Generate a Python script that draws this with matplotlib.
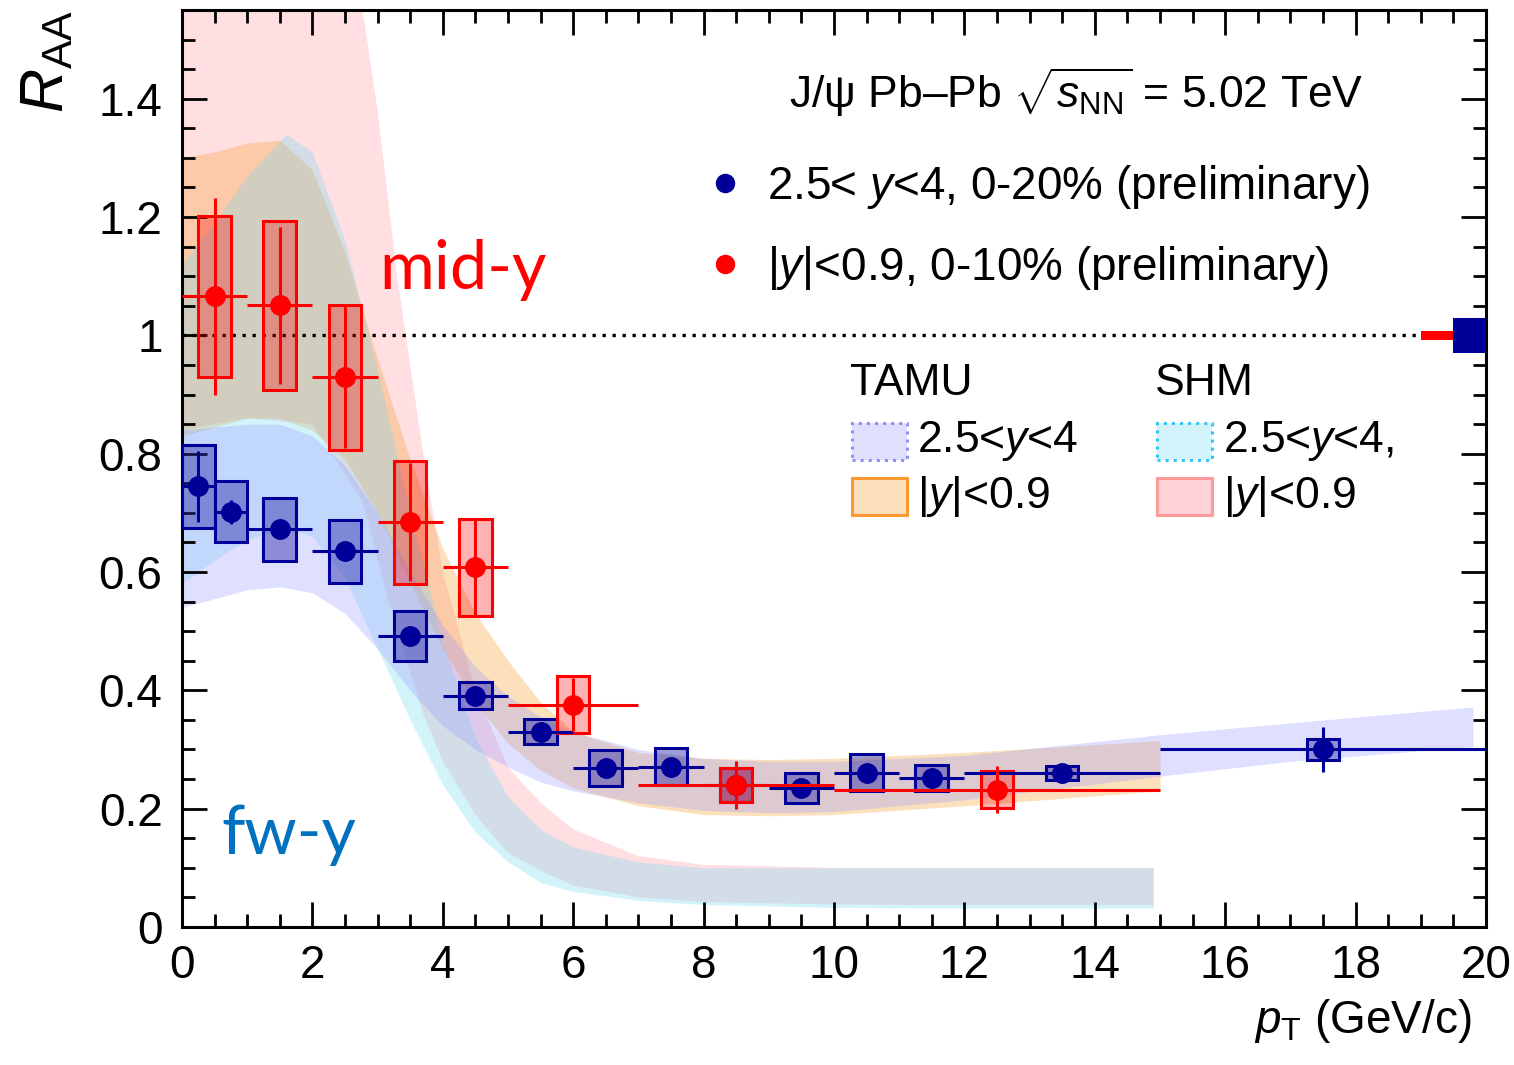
import matplotlib
matplotlib.use('Agg')
import matplotlib.pyplot as plt
from matplotlib.patches import Rectangle
from matplotlib.lines import Line2D
from matplotlib.ticker import MultipleLocator

plt.rcParams['font.family'] = ['Liberation Sans', 'DejaVu Sans']
plt.rcParams['mathtext.fontset'] = 'custom'
plt.rcParams['mathtext.rm'] = 'Liberation Sans'
plt.rcParams['mathtext.it'] = 'Liberation Sans:italic'
plt.rcParams['mathtext.bf'] = 'Liberation Sans:bold'

# ALICE forward rapidity 2.5<y<4, 0-20%
pt_fw = [0.25, 0.75, 1.5, 2.5, 3.5, 4.5, 5.5, 6.5, 7.5, 8.5, 9.5, 10.5, 11.5, 13.5, 17.5]
bin_lo_fw = [0, 0.5, 1, 2, 3, 4, 5, 6, 7, 8, 9, 10, 11, 12, 15]
bin_hi_fw = [0.5, 1, 2, 3, 4, 5, 6, 7, 8, 9, 10, 11, 12, 15, 20]
raa_fw = [0.745, 0.702, 0.672, 0.635, 0.492, 0.391, 0.330, 0.269, 0.271, 0.240, 0.235, 0.261, 0.252, 0.260, 0.300]
stat_fw = [0.06, 0.02, 0.015, 0.015, 0.012, 0.01, 0.008, 0.01, 0.01, 0.01, 0.01, 0.01, 0.01, 0.008, 0.038]
syst_fw = [0.07, 0.052, 0.053, 0.053, 0.042, 0.023, 0.021, 0.03, 0.031, 0.028, 0.026, 0.031, 0.022, 0.012, 0.017]

# ALICE mid rapidity |y|<0.9, 0-10%
pt_mid = [0.5, 1.5, 2.5, 3.5, 4.5, 6.0, 8.5, 12.5]
bin_lo_mid = [0, 1, 2, 3, 4, 5, 7, 10]
bin_hi_mid = [1, 2, 3, 4, 5, 7, 10, 15]
raa_mid = [1.066, 1.051, 0.929, 0.684, 0.608, 0.376, 0.240, 0.232]
stat_mid = [0.167, 0.133, 0.12, 0.10, 0.08, 0.045, 0.04, 0.04]
syst_mid = [0.136, 0.143, 0.122, 0.104, 0.082, 0.048, 0.028, 0.031]

# global uncertainties at unity
glob_fw = 0.03
glob_mid = 0.008

# SHM |y|<0.9
shm_mid_x = [0, 1, 2, 2.77, 3, 3.3, 3.7, 4, 4.5, 5, 5.5, 6, 7, 8, 10, 12, 14.9]
shm_mid_hi = [2.5, 2.2, 1.85, 1.55, 1.38, 1.10, 0.80, 0.60, 0.40, 0.27, 0.21, 0.165, 0.12, 0.105, 0.10, 0.10, 0.10]
shm_mid_lo = [0.84, 0.86, 0.85, 0.72, 0.62, 0.50, 0.36, 0.28, 0.19, 0.125, 0.095, 0.07, 0.05, 0.042, 0.038, 0.037, 0.037]

# TAMU |y|<0.9
tamu_mid_x = [0, 0.5, 1, 1.5, 2, 2.5, 3, 3.5, 4, 4.5, 5, 5.5, 6, 7, 8, 9, 10, 12, 15]
tamu_mid_hi = [1.30, 1.31, 1.325, 1.33, 1.28, 1.14, 0.96, 0.79, 0.64, 0.53, 0.45, 0.38, 0.33, 0.295, 0.285, 0.283, 0.285, 0.295, 0.315]
tamu_mid_lo = [0.83, 0.845, 0.86, 0.86, 0.84, 0.79, 0.70, 0.58, 0.47, 0.38, 0.31, 0.265, 0.235, 0.205, 0.19, 0.188, 0.19, 0.205, 0.23]

# SHM 2.5<y<4
shm_fw_x = [0, 0.5, 1, 1.6, 2, 2.5, 3, 3.5, 4, 4.5, 5, 5.5, 6, 7, 8, 10, 12, 14.9]
shm_fw_hi = [1.12, 1.19, 1.27, 1.34, 1.31, 1.16, 0.94, 0.70, 0.48, 0.32, 0.22, 0.165, 0.135, 0.11, 0.10, 0.10, 0.10, 0.10]
shm_fw_lo = [0.58, 0.62, 0.655, 0.675, 0.66, 0.59, 0.47, 0.35, 0.24, 0.16, 0.11, 0.075, 0.06, 0.045, 0.038, 0.033, 0.032, 0.032]

# TAMU 2.5<y<4
tamu_fw_x = [0, 0.5, 1, 1.5, 2, 2.5, 3, 3.5, 4, 4.5, 5, 5.5, 6, 7, 8, 9, 10, 12, 15, 17, 19.8]
tamu_fw_hi = [0.84, 0.845, 0.85, 0.85, 0.83, 0.78, 0.70, 0.60, 0.51, 0.44, 0.39, 0.355, 0.33, 0.30, 0.285, 0.28, 0.28, 0.29, 0.325, 0.345, 0.372]
tamu_fw_lo = [0.54, 0.555, 0.57, 0.575, 0.565, 0.53, 0.47, 0.40, 0.34, 0.30, 0.27, 0.245, 0.23, 0.21, 0.197, 0.193, 0.195, 0.215, 0.255, 0.28, 0.305]

navy = '#000099'
red = '#ff0000'
c_shm_mid = '#ff6f7d'
c_tamu_mid = '#f89a22'
c_shm_fw = '#70daf5'
c_tamu_fw = '#9898ff'

fig = plt.figure(figsize=(15.14, 10.65), dpi=100)
ax = fig.add_axes([0.1202, 0.1296, 0.8613, 0.861])

# model bands
ax.fill_between(shm_mid_x, shm_mid_lo, shm_mid_hi, color=c_shm_mid, alpha=0.22, lw=0, zorder=1)
ax.fill_between(tamu_mid_x, tamu_mid_lo, tamu_mid_hi, color=c_tamu_mid, alpha=0.3, lw=0, zorder=1)
ax.fill_between(shm_fw_x, shm_fw_lo, shm_fw_hi, color=c_shm_fw, alpha=0.3, lw=0, zorder=1)
ax.fill_between(tamu_fw_x, tamu_fw_lo, tamu_fw_hi, color=c_tamu_fw, alpha=0.3, lw=0, zorder=1)

ax.axhline(1, color='k', ls=(0, (1, 2)), lw=2.4, zorder=4)

# systematic boxes
for x, y, s in zip(pt_fw, raa_fw, syst_fw):
    ax.add_patch(Rectangle((x - 0.25, y - s), 0.5, 2 * s, facecolor='#2a2aa8', alpha=0.45, lw=0, zorder=5))
    ax.add_patch(Rectangle((x - 0.25, y - s), 0.5, 2 * s, facecolor='none', edgecolor=navy, lw=2.2, zorder=6))
for x, y, s in zip(pt_mid, raa_mid, syst_mid):
    ax.add_patch(Rectangle((x - 0.25, y - s), 0.5, 2 * s, facecolor=red, alpha=0.3, lw=0, zorder=5))
    ax.add_patch(Rectangle((x - 0.25, y - s), 0.5, 2 * s, facecolor='none', edgecolor=red, lw=2.2, zorder=6))

xerr_fw = [[p - l for p, l in zip(pt_fw, bin_lo_fw)], [h - p for p, h in zip(pt_fw, bin_hi_fw)]]
xerr_mid = [[p - l for p, l in zip(pt_mid, bin_lo_mid)], [h - p for p, h in zip(pt_mid, bin_hi_mid)]]
ax.errorbar(pt_fw, raa_fw, xerr=xerr_fw, yerr=stat_fw, fmt='o', color=navy, ms=14,
            elinewidth=2.2, capsize=0, zorder=7)
ax.errorbar(pt_mid, raa_mid, xerr=xerr_mid, yerr=stat_mid, fmt='o', color=red, ms=14,
            elinewidth=2.2, capsize=0, zorder=8)

# global uncertainty boxes
ax.add_patch(Rectangle((19.5, 1 - glob_fw), 0.5, 2 * glob_fw, facecolor=navy, lw=0, zorder=5))
ax.add_patch(Rectangle((19.0, 1 - glob_mid), 0.5, 2 * glob_mid, facecolor=red, lw=0, zorder=5))

ax.set_xlim(0, 20)
ax.set_ylim(0, 1.55)
ax.xaxis.set_major_locator(MultipleLocator(2))
ax.xaxis.set_minor_locator(MultipleLocator(0.5))
ax.yaxis.set_major_locator(MultipleLocator(0.2))
ax.yaxis.set_minor_locator(MultipleLocator(0.05))
ax.set_yticks([0, 0.2, 0.4, 0.6, 0.8, 1, 1.2, 1.4], ['0', '0.2', '0.4', '0.6', '0.8', '1', '1.2', '1.4'])
ax.tick_params(which='both', direction='in', top=True, right=True, width=2, labelsize=33)
ax.tick_params(which='major', length=18)
ax.tick_params(which='minor', length=9.5)
ax.tick_params(axis='x', pad=12)
ax.tick_params(axis='y', pad=14)
for sp in ax.spines.values():
    sp.set_linewidth(2.2)

ax.text(-0.103, 1.0, r'$R_{\mathrm{AA}}$', rotation=90, ha='center', va='top', fontsize=44,
        transform=ax.transAxes)
ax.text(0.989, -0.076, r'$p_{\mathrm{T}}$ (GeV/c)', ha='right', va='top', fontsize=33,
        transform=ax.transAxes)

ax.text(0.686, 0.91, 'J/ψ Pb–Pb $\\sqrt{s_{\\mathrm{NN}}}$ = 5.02 TeV', ha='center', va='center',
        fontsize=32, transform=ax.transAxes)

handles = [Line2D([], [], marker='o', ls='none', color=navy, ms=13),
           Line2D([], [], marker='o', ls='none', color=red, ms=13)]
labels = [r'2.5< $y$<4, 0-20% (preliminary)', r'|$y$|<0.9, 0-10% (preliminary)']
ax.legend(handles, labels, loc='upper left', bbox_to_anchor=(0.364, 0.878), frameon=False,
          fontsize=33, handletextpad=0.3, labelspacing=0.72, handlelength=1.2)

# model legend
ax.text(0.512, 0.593, 'TAMU', fontsize=32, ha='left', va='center', transform=ax.transAxes)
ax.text(0.746, 0.593, 'SHM', fontsize=32, ha='left', va='center', transform=ax.transAxes)
swatches = [(0.514, 0.509, c_tamu_fw, '#8f8ff5', ':', r'2.5<$y$<4'),
            (0.514, 0.449, c_tamu_mid, '#ff9933', '-', r'|$y$|<0.9'),
            (0.748, 0.509, c_shm_fw, '#33c4f0', ':', r'2.5<$y$<4,'),
            (0.748, 0.449, c_shm_mid, '#ff9a9a', '-', r'|$y$|<0.9')]
for sx, sy, fc, ec, ls, lab in swatches:
    ax.add_patch(Rectangle((sx, sy), 0.042, 0.041, facecolor=fc, alpha=0.3, lw=0,
                           transform=ax.transAxes, zorder=9))
    ax.add_patch(Rectangle((sx, sy), 0.042, 0.041, facecolor='none', edgecolor=ec, ls=ls, lw=2.2,
                           transform=ax.transAxes, zorder=9))
    ax.text(sx + 0.05, sy + 0.021, lab, fontsize=32, ha='left', va='center', transform=ax.transAxes)

ax.text(0.151, 0.716, 'mid-y', color='#ff0000', fontsize=48, family=['Lato', 'DejaVu Sans'],
        ha='left', va='center', transform=ax.transAxes)
ax.text(0.030, 0.10, 'fw-y', color='#0070c0', fontsize=48, family=['Lato', 'DejaVu Sans'],
        ha='left', va='center', transform=ax.transAxes)

fig.savefig('out.png', dpi=100)
